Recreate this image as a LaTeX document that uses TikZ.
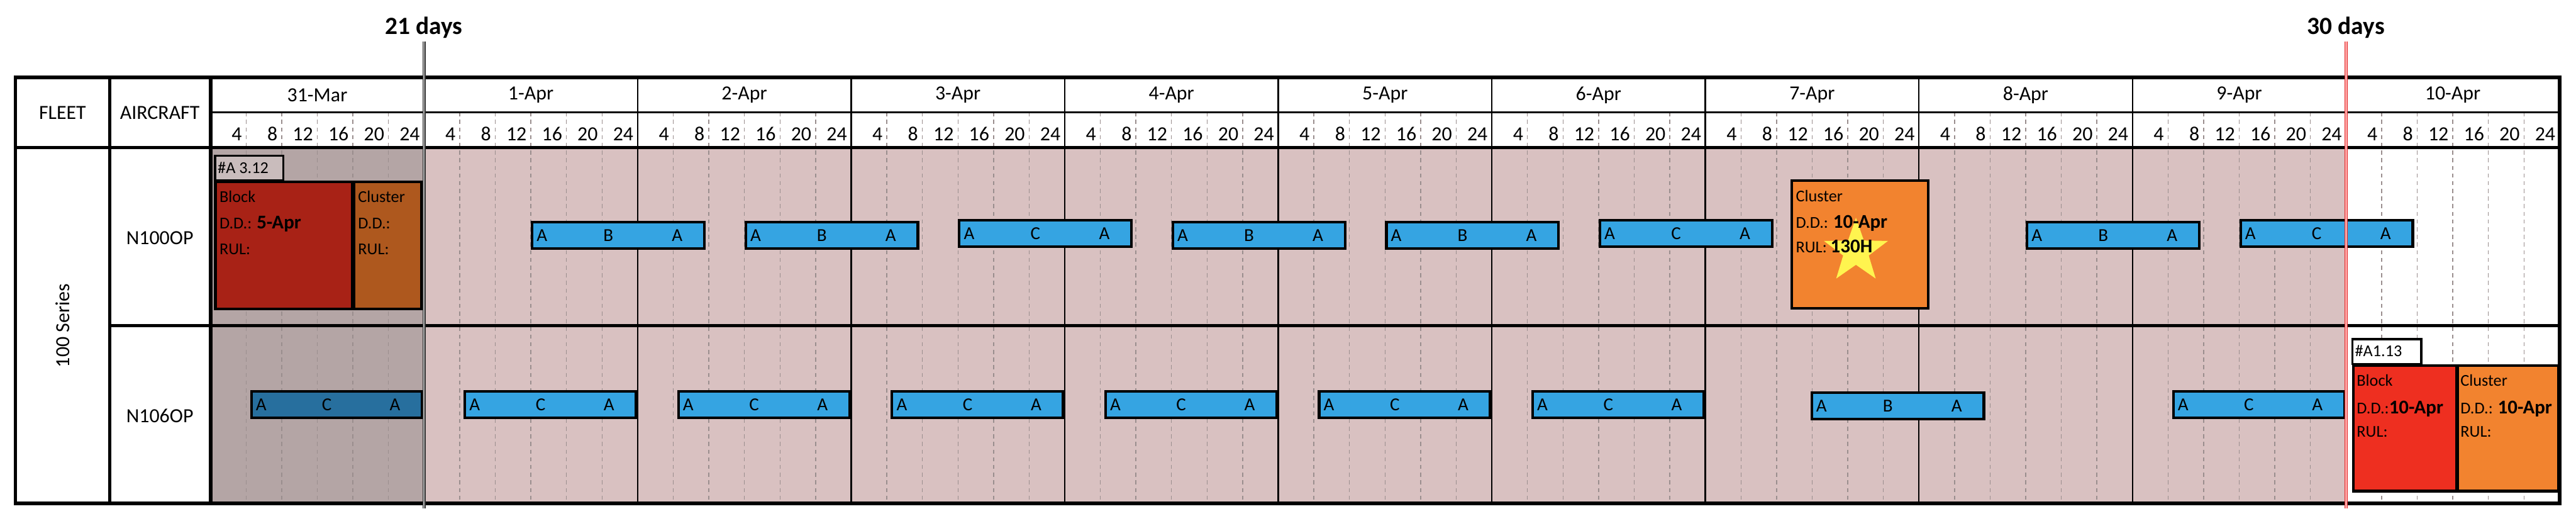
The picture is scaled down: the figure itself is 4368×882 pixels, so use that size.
\documentclass[tikz,border=0pt]{standalone}
\usepackage{fontspec}
\setmainfont{Carlito}
\usetikzlibrary{shapes.geometric}
\definecolor{pinkbg}{HTML}{D9C1C1}
\definecolor{darkbg}{HTML}{B4A5A5}
\definecolor{barblue}{HTML}{35A4E2}
\definecolor{bardark}{HTML}{276F9E}
\definecolor{redark}{HTML}{A82216}
\definecolor{brownc}{HTML}{AE581E}
\definecolor{tagdark}{HTML}{C9BCBC}
\definecolor{redbright}{HTML}{EE2F20}
\definecolor{orangec}{HTML}{F2832F}
\definecolor{staryellow}{HTML}{FFF44F}
\definecolor{hourgray}{HTML}{9A8E8E}
\definecolor{redline}{HTML}{E02828}
\newcommand{\setfs}[1]{\fontsize{#1}{#1}\selectfont}
\newcommand{\taskbar}[6]{%
  \node[barbox, fill=#5, minimum width=#4pt, anchor=north west] (#1) at (#2,#3) {};
  \node[bartext] (#1-a) at ([xshift=0.065*#4pt]#1.west) {A};
  \node[bartext] (#1-m) at ([xshift=0.45*#4pt]#1.west) {#6};
  \node[bartext] (#1-b) at ([xshift=0.85*#4pt]#1.west) {A};
}
\begin{document}
\begin{tikzpicture}[x=1pt,y=-1pt,
  hourline/.style={draw=hourgray, line width=1.5pt, dash pattern=on 7pt off 6pt},
  dayline/.style={draw=black, line width=2.5pt},
  thickline/.style={draw=black, line width=6pt},
  hdr/.style={font=\setfs{34}, inner sep=0pt},
  hourlbl/.style={font=\setfs{34}, inner sep=0pt, anchor=base east},
  bartext/.style={font=\setfs{31}, inner sep=0pt},
  barbox/.style={draw=black, line width=4.5pt, minimum height=45pt, inner sep=0pt},
  boxstyle/.style={draw=black, line width=4.5pt, inner sep=0pt, anchor=north west},
  boxtext/.style={font=\setfs{28}, inner sep=0pt, anchor=base west},
  tagtext/.style={font=\setfs{28}, inner sep=0pt, anchor=west},
  dayslbl/.style={font=\bfseries\setfs{42}, inner sep=0pt},
  mark21/.style={draw=black!80, double=black!30, double distance=2pt, line width=1.6pt},
  mark30/.style={draw=redline, double=red!35, double distance=2.5pt, line width=1.6pt}
]
\useasboundingbox (0,0) rectangle (4368,882);

% body shading
\fill[darkbg] (357,251) rectangle (719,853);
\fill[pinkbg] (719,251) rectangle (3978,853);

% dashed 4-hour lines
\foreach \d in {0,...,10}{
  \foreach \h in {1,...,5}{
    \draw[hourline] ({357+362.1*\d+60.35*\h},190) -- ({357+362.1*\d+60.35*\h},853);
  }
}

% hour labels
\foreach \d in {0,...,10}{
  \foreach \h/\t in {1/4,2/8,3/12,4/16,5/20,6/24}{
    \node[hourlbl] (h-\d-\h) at ({357+362.1*\d+60.35*\h-7},238) {\t};
  }
}

% day separators
\foreach \d in {1,...,10}{
  \draw[dayline] ({357+362.1*\d},131) -- ({357+362.1*\d},853);
}

% day labels
\foreach \t [count=\i from 0] in {31-Mar,1-Apr,2-Apr,3-Apr,4-Apr,5-Apr,6-Apr,7-Apr,8-Apr,9-Apr,10-Apr}{
  \node[hdr] (day-\i) at ({357+362.1*\i+181},161) {\t};
}

% table structure
\draw[line width=3pt] (357,190) -- (4340,190);
\draw[line width=5pt] (186,552) -- (4340,552);
\draw[thickline] (26,250) -- (4340,250);
\draw[thickline] (186,131) -- (186,853);
\draw[thickline] (357,131) -- (357,853);
\draw[thickline] (26,131) rectangle (4340,853);

% left column labels
\node[hdr] (fleet) at (106,191) {FLEET};
\node[hdr] (aircraft) at (271,191) {AIRCRAFT};
\node[hdr, rotate=90] (series) at (106,552) {100 Series};
\node[hdr] (ac1) at (271,403) {N100OP};
\node[hdr] (ac2) at (271,705) {N106OP};

% row 1 bars
\foreach \d/\m/\yy in {1/B/374,2/B/374,3/C/371,4/B/374,5/B/374,6/C/371,8/B/374,9/C/371}{
  \pgfmathsetmacro{\xx}{357+362.1*\d+181}
  \taskbar{ra\d}{\xx}{\yy}{292}{barblue}{\m}
}
% row 2 bars
\taskbar{rb0}{424}{661}{289}{bardark}{C}
\foreach \d in {1,2,3,4,5,6,9}{
  \pgfmathsetmacro{\xx}{357+362.1*\d+67}
  \taskbar{rb\d}{\xx}{661}{290}{barblue}{C}
}
\pgfmathsetmacro{\xx}{357+362.1*7+178}
\taskbar{rb7}{\xx}{663}{292}{barblue}{B}

% 31-Mar blocks (row 1)
\node[boxstyle, line width=3.5pt, fill=tagdark, minimum width=116pt, minimum height=42pt] (tag1) at (363,262) {};
\node[tagtext] (tag1t) at (369,284) {\#A 3.12};
\node[boxstyle, fill=redark, minimum width=232pt, minimum height=215pt] (blk1) at (363,306) {};
\node[boxstyle, fill=brownc, minimum width=114pt, minimum height=215pt] (cl1) at (598,306) {};
\node[boxtext] (blk1a) at (372,343) {Block};
\node[boxtext] (blk1b) at (372,388) {D.D.: {\bfseries\setfs{33}5-Apr}};
\node[boxtext] (blk1c) at (372,431) {RUL:};
\node[boxtext] (cl1a) at (607,343) {Cluster};
\node[boxtext] (cl1b) at (607,388) {D.D.:};
\node[boxtext] (cl1c) at (607,431) {RUL:};

% 7-Apr cluster (row 1)
\node[boxstyle, fill=orangec, minimum width=231pt, minimum height=216pt] (cl2) at (3036,304) {};
\node[star, star points=5, star point ratio=2.5, minimum size=114pt, inner sep=0pt, fill=staryellow] (star) at (3147,426) {};
\node[boxtext] (cl2a) at (3045,342) {Cluster};
\node[boxtext] (cl2b) at (3045,387) {D.D.: {\bfseries\setfs{33}10-Apr}};
\node[boxtext] (cl2c) at (3045,428) {RUL: {\bfseries\setfs{33}130H}};

% 10-Apr blocks (row 2)
\node[boxstyle, line width=3.5pt, fill=white, minimum width=117pt, minimum height=42pt] (tag2) at (3987,573) {};
\node[tagtext] (tag2t) at (3993,595) {\#A1.13};
\node[boxstyle, fill=redbright, minimum width=175pt, minimum height=213pt] (blk2) at (3988,617) {};
\node[boxstyle, fill=orangec, minimum width=171pt, minimum height=213pt] (cl3) at (4165,617) {};
\node[boxtext] (blk2a) at (3996,654) {Block};
\node[boxtext] (blk2b) at (3996,701) {D.D.:{\bfseries\setfs{33}10-Apr}};
\node[boxtext] (blk2c) at (3996,741) {RUL:};
\node[boxtext] (cl3a) at (4172,654) {Cluster};
\node[boxtext] (cl3b) at (4172,701) {D.D.: {\bfseries\setfs{33}10-Apr}};
\node[boxtext] (cl3c) at (4172,741) {RUL:};

% milestone lines
\node[dayslbl] (d21) at (719,47) {21 days};
\coordinate (d21top) at (719,70);
\coordinate (d21bot) at (719,862);
\draw[mark21] (d21top) -- (d21bot);
\node[dayslbl] (d30) at (3978,47) {30 days};
\coordinate (d30top) at (3978,70);
\coordinate (d30bot) at (3978,862);
\draw[mark30] (d30top) -- (d30bot);
\end{tikzpicture}
\end{document}
